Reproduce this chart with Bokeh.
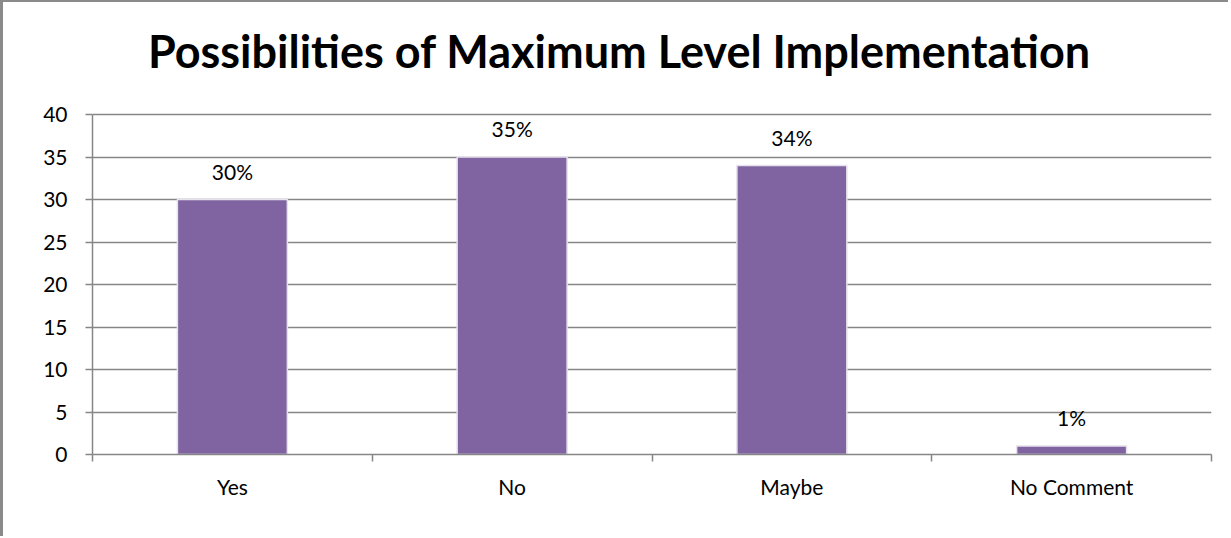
from bokeh.plotting import figure
from bokeh.models import ColumnDataSource, FixedTicker, LabelSet, Label, Range1d
from bokeh.core.properties import value
from bokeh.embed import file_html
from bokeh.resources import INLINE

# Survey responses
categories = ["Yes", "No", "Maybe", "No Comment"]
counts = [30, 35, 34, 1]
pct_labels = ["30%", "35%", "34%", "1%"]
y_ticks = [0, 5, 10, 15, 20, 25, 30, 35, 40]
title_text = "Possibilities of Maximum Level Implementation"

positions = [i + 0.5 for i in range(len(categories))]
source = ColumnDataSource(dict(x=positions, y=counts, label=pct_labels))

FONT = "Lato"
GRID = "#868686"
BAR = "#8064A2"
LABEL_SIZE = "21px"
W, H = 1228, 536
BORDER_L, BORDER_R, BORDER_B = 89, 20, 84

# The frame runs to the top of the canvas so the title can sit inside it;
# the value axis itself only covers 0..40.
frame_h = H - BORDER_B
y_top = 40 * frame_h / (frame_h - 112)

p = figure(
    width=W, height=H,
    x_range=Range1d(0, len(categories)), y_range=Range1d(0, y_top),
    output_backend="svg", toolbar_location=None,
    min_border_left=BORDER_L, min_border_right=BORDER_R,
    min_border_bottom=BORDER_B, min_border_top=0,
)
p.styles = {"border-left": "3px solid #8a8a8a", "border-top": "2px solid #8a8a8a"}
p.outline_line_color = None
p.background_fill_color = "white"
p.border_fill_color = "white"

# chart title, centred on the whole canvas
p.add_layout(Label(
    x=W / 2 + 2 - BORDER_L, y=frame_h - 48, x_units="screen", y_units="screen",
    text=title_text, text_align="center", text_baseline="alphabetic",
    text_font=FONT, text_font_style="bold", text_font_size="45px", text_color="black",
))

p.vbar(x="x", top="y", width=0.393, source=source,
       fill_color=BAR, line_color="#e6e1ec", line_width=1.5)

labels = LabelSet(x="x", y="y", text="label", source=source,
                  text_align="center", text_baseline="bottom", y_offset=16,
                  text_font_size=LABEL_SIZE, text_font=value(FONT), text_color="black")
p.add_layout(labels)

# x axis: category names centred, tick marks on category boundaries
p.xaxis.ticker = FixedTicker(ticks=positions, minor_ticks=list(range(len(categories) + 1)))
p.xaxis.major_label_overrides = {pos: name for pos, name in zip(positions, categories)}
p.xaxis.major_tick_line_color = None
p.xaxis.minor_tick_out = 7
p.xaxis.minor_tick_in = 0
p.xaxis.minor_tick_line_color = GRID
p.xaxis.minor_tick_line_width = 1.5
p.xaxis.axis_line_color = GRID
p.xaxis.axis_line_width = 1.5
p.xaxis.major_label_standoff = 12
p.xaxis.major_label_text_font = FONT
p.xaxis.major_label_text_font_size = LABEL_SIZE
p.xaxis.major_label_text_color = "black"

p.yaxis.ticker = FixedTicker(ticks=y_ticks)
p.yaxis.bounds = (0, 40)
p.yaxis.major_tick_out = 7
p.yaxis.major_tick_in = 0
p.yaxis.minor_tick_line_color = None
p.yaxis.major_tick_line_color = GRID
p.yaxis.major_tick_line_width = 1.5
p.yaxis.axis_line_color = GRID
p.yaxis.axis_line_width = 1.5
p.yaxis.major_label_standoff = 18
p.yaxis.major_label_text_font = FONT
p.yaxis.major_label_text_font_size = LABEL_SIZE
p.yaxis.major_label_text_color = "black"

p.xgrid.grid_line_color = None
p.ygrid.grid_line_color = GRID
p.ygrid.grid_line_width = 1.5

open("out.html", "w").write(file_html(p, INLINE))
